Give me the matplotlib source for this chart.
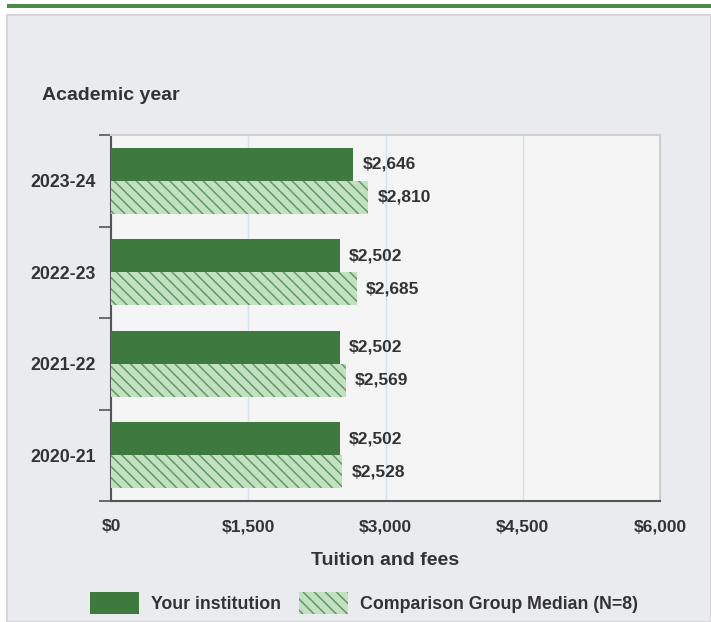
import numpy as np
import matplotlib
matplotlib.use("Agg")
import matplotlib.pyplot as plt
from matplotlib.patches import Rectangle, Patch
from matplotlib.ticker import FuncFormatter

plt.rcParams['font.family'] = ['Liberation Sans', 'DejaVu Sans']
plt.rcParams['hatch.color'] = '#5f9c5f'
plt.rcParams['hatch.linewidth'] = 1.1

years = ['2023-24', '2022-23', '2021-22', '2020-21']
your_inst = [2646, 2502, 2502, 2502]
comp_median = [2810, 2685, 2569, 2528]
x_ticks = [0, 1500, 3000, 4500, 6000]

dark = '#3e7a3e'
light = '#c3e0c2'
txt = '#333333'
W, H = 711, 622

fig = plt.figure(figsize=(W / 100, H / 100), dpi=100)
fig.patch.set_facecolor('white')

def fx(px):
    return px / W

def fy(py):
    return 1 - py / H

# top band and grey panel
fig.patches.append(Rectangle((fx(7), fy(8)), fx(704), 4 / H, transform=fig.transFigure,
                             facecolor='#4d8a4d', edgecolor='none', zorder=-2))
fig.patches.append(Rectangle((fx(7), 0), fx(704), fy(15), transform=fig.transFigure,
                             facecolor='#eaebef', edgecolor='#d6d6d9', linewidth=1.5, zorder=-2))

ax = fig.add_axes([fx(111), fy(501), fx(660 - 111), (501 - 135) / H])
ax.set_zorder(1)
ax.set_facecolor('#f5f5f6')

n = len(years)
pos = np.arange(n)
bh = 0.36
ax.barh(pos - bh / 2, your_inst, height=bh, color=dark, zorder=3)
ax.barh(pos + bh / 2, comp_median, height=bh, color=light, hatch='\\\\\\', edgecolor='#5f9c5f',
        linewidth=0, zorder=3)

for i in range(n):
    ax.text(your_inst[i] + 100, pos[i] - bh / 2, f"${your_inst[i]:,}", va='center', ha='left',
            fontsize=12.5, fontweight='bold', color=txt)
    ax.text(comp_median[i] + 100, pos[i] + bh / 2, f"${comp_median[i]:,}", va='center', ha='left',
            fontsize=12.5, fontweight='bold', color=txt)

ax.set_xlim(0, 6000)
ax.set_ylim(n - 0.5, -0.5)
ax.set_xticks(x_ticks)
ax.xaxis.set_major_formatter(FuncFormatter(lambda v, p: f"${int(v):,}"))
ax.tick_params(axis='x', length=0, pad=13, labelsize=12.5, labelcolor=txt)
for lbl in ax.get_xticklabels():
    lbl.set_fontweight('bold')
ax.grid(axis='x', color='#d4e2ee', linewidth=1, zorder=0)
ax.set_axisbelow(True)

ax.set_yticks(pos)
ax.set_yticklabels(years, fontweight='bold', fontsize=12.8, color=txt)
ax.tick_params(axis='y', length=0, pad=11)
ax.set_yticks(np.arange(n + 1) - 0.5, minor=True)
ax.tick_params(axis='y', which='minor', length=9, width=1.2, color='#555555')

for s in ['top', 'right']:
    ax.spines[s].set_color('#cfcfd3')
    ax.spines[s].set_linewidth(1.5)
for s in ['left', 'bottom']:
    ax.spines[s].set_color('#555555')
    ax.spines[s].set_linewidth(1.5)

ax.set_xlabel('Tuition and fees', fontsize=14, fontweight='bold', color=txt, labelpad=13)
fig.text(fx(42), fy(95), 'Academic year', fontsize=14, fontweight='bold', color=txt,
         va='center', ha='left')

handles = [Patch(facecolor=dark, edgecolor='none', label='Your institution'),
           Patch(facecolor=light, edgecolor='#5f9c5f', linewidth=0, hatch='\\\\\\',
                 label='Comparison Group Median (N=8)')]
leg = fig.legend(handles=handles, loc='center', bbox_to_anchor=(fx(364), fy(603)), ncol=2,
                 frameon=False, handlelength=2.75, handleheight=1.5, columnspacing=1.0,
                 handletextpad=0.7, prop={'weight': 'bold', 'size': 12.8})
for t in leg.get_texts():
    t.set_color(txt)

fig.savefig('out.png', dpi=100, facecolor=fig.get_facecolor())
